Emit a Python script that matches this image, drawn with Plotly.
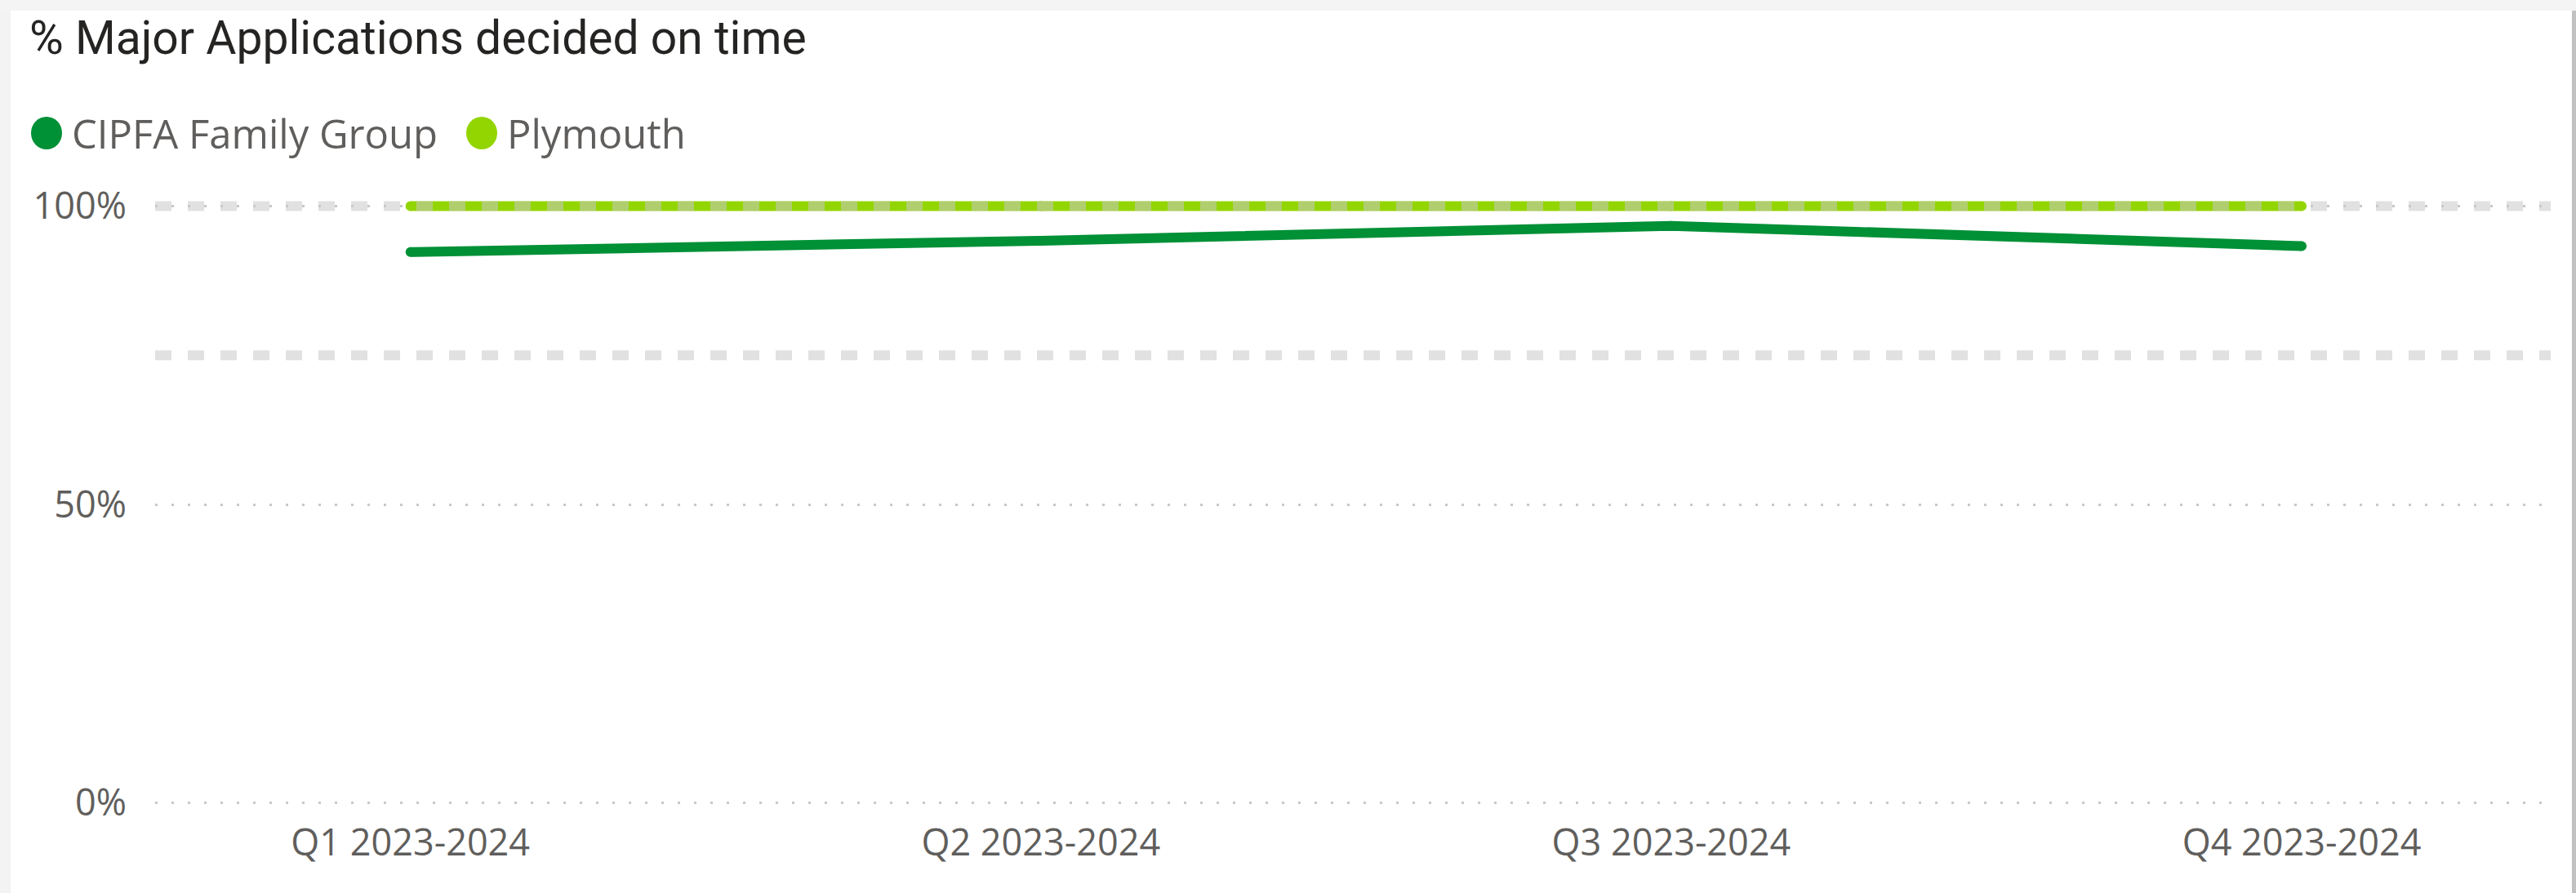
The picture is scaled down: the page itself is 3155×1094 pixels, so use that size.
import plotly.graph_objects as go

# ---- data ----
quarters = ["Q1 2023-2024", "Q2 2023-2024", "Q3 2023-2024", "Q4 2023-2024"]
cipfa_family_group = [92.3, 94.2, 96.7, 93.3]
plymouth = [100, 100, 100, 100]
series_names = ["CIPFA Family Group", "Plymouth"]
series_colors = ["#009036", "#93D500"]
y_tick_values = [0, 50, 100]
y_tick_labels = ["0%", "50%", "100%"]
reference_values = [75, 100]
chart_title = "% Major Applications decided on time"

# ---- layout geometry (pixels) ----
W, H = 3155, 1094
L, R, T, B = 190, 31, 216, 103
PW, PH = W - L - R, H - T - B


def xp(px):
    return (px - L) / PW


def yp(py):
    return (H - B - py) / PH


fig = go.Figure()
for name, vals, col in zip(series_names, [cipfa_family_group, plymouth], series_colors):
    fig.add_trace(go.Scatter(
        x=quarters, y=vals, name=name, mode="lines+markers",
        line=dict(color=col, width=12),
        marker=dict(color=col, size=12, line=dict(width=0)),
        showlegend=False, hoverinfo="x+y+name",
    ))

shapes = []
# card frame
shapes.append(dict(type="rect", xref="paper", yref="paper", x0=xp(0), x1=xp(13), y0=yp(H), y1=yp(0),
                   fillcolor="#F3F3F3", line=dict(width=0), layer="below"))
shapes.append(dict(type="rect", xref="paper", yref="paper", x0=xp(0), x1=xp(W), y0=yp(13), y1=yp(0),
                   fillcolor="#F4F4F4", line=dict(width=0), layer="below"))
shapes.append(dict(type="rect", xref="paper", yref="paper", x0=xp(3150), x1=xp(W), y0=yp(H), y1=yp(13),
                   fillcolor="#C2C2C2", line=dict(width=0), layer="below"))
# reference lines
for v in reference_values:
    shapes.append(dict(type="line", xref="paper", yref="y", x0=0, x1=1, y0=v, y1=v,
                       line=dict(color="rgba(200,200,200,0.55)", width=12, dash="20px,20px"),
                       layer="above"))

annotations = [dict(text=chart_title, xref="paper", yref="paper", x=xp(34), y=yp(46),
                    xanchor="left", yanchor="middle", showarrow=False,
                    font=dict(family="Roboto", size=57, color="#252423"))]

# manual legend
legend_x = [57, 590]
for name, col, cx in zip(series_names, series_colors, legend_x):
    shapes.append(dict(type="circle", xref="paper", yref="paper", xsizemode="pixel", ysizemode="pixel",
                       xanchor=xp(cx), yanchor=yp(163), x0=-19, x1=19, y0=-20, y1=20,
                       fillcolor=col, line=dict(width=0)))
    annotations.append(dict(text=name, xref="paper", yref="paper", x=xp(cx + 29), y=yp(163),
                            xanchor="left", yanchor="middle", showarrow=False,
                            font=dict(family="Open Sans", size=49, color="#605E5C")))

fig.update_layout(
    width=W, height=H,
    margin=dict(l=L, r=R, t=T, b=B, pad=0),
    paper_bgcolor="white", plot_bgcolor="white",
    shapes=shapes, annotations=annotations,
    xaxis=dict(type="category", range=[-0.405, 3.395], showgrid=False, zeroline=False,
               showline=False, ticks="", tickfont=dict(family="Open Sans", size=45, color="#605E5C"),
               ticklabelstandoff=11, fixedrange=True),
    yaxis=dict(range=[-1, 105], tickvals=y_tick_values, ticktext=y_tick_labels,
               showgrid=True, gridcolor="#C8C8C8", gridwidth=3, griddash="3px,17px",
               zeroline=False, showline=False, ticks="",
               tickfont=dict(family="Open Sans", size=45, color="#605E5C"),
               ticklabelstandoff=34, fixedrange=True),
    showlegend=False,
)

fig.write_html("out.html", config={"displayModeBar": False},
               post_script="document.body.style.margin='0';")
